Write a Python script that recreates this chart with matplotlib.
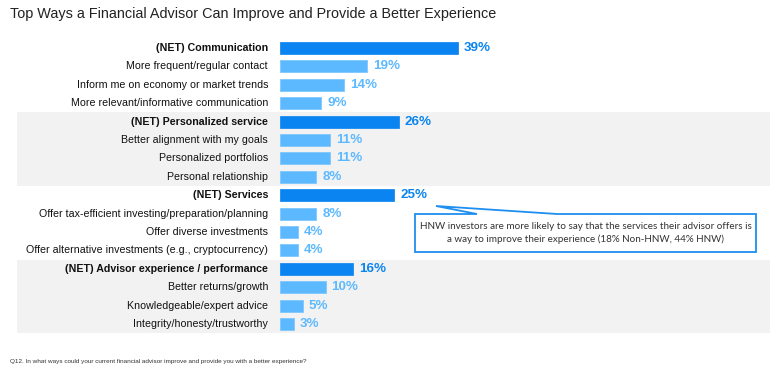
import matplotlib
matplotlib.use("Agg")
import matplotlib.pyplot as plt
from matplotlib.patches import Polygon

categories = [
    "(NET) Communication",
    "More frequent/regular contact",
    "Inform me on economy or market trends",
    "More relevant/informative communication",
    "(NET) Personalized service",
    "Better alignment with my goals",
    "Personalized portfolios",
    "Personal relationship",
    "(NET) Services",
    "Offer tax-efficient investing/preparation/planning",
    "Offer diverse investments",
    "Offer alternative investments (e.g., cryptocurrency)",
    "(NET) Advisor experience / performance",
    "Better returns/growth",
    "Knowledgeable/expert advice",
    "Integrity/honesty/trustworthy",
]
values = [39, 19, 14, 9, 26, 11, 11, 8, 25, 8, 4, 4, 16, 10, 5, 3]
is_net = [True, False, False, False, True, False, False, False,
          True, False, False, False, True, False, False, False]
shaded_groups = [(4, 7), (12, 15)]

title = "Top Ways a Financial Advisor Can Improve and Provide a Better Experience"
footnote = "Q12. In what ways could your current financial advisor improve and provide you with a better experience?"
callout = ("HNW investors are more likely to say that the services their advisor offers is\n"
           "a way to improve their experience (18% Non-HNW, 44% HNW)")

W, H = 780, 369
fig = plt.figure(figsize=(W / 100, H / 100), dpi=100)
plt.rcParams['font.family'] = ['Liberation Sans', 'DejaVu Sans']

ax = fig.add_axes([0, 0, 1, 1])
px_per = 4.56
x0 = 280
ax.set_xlim(-x0 / px_per, (W - x0) / px_per)
row0, rstep = 48, 18.4
ax.set_ylim((H - row0) / rstep, -row0 / rstep)
ax.axis("off")

DARK = "#0A84F0"
LIGHT = "#5DB9FF"

for a, b in shaded_groups:
    ax.axhspan(a - 0.5, b + 0.5, xmin=17 / W, xmax=770 / W, color="#F2F2F2", zorder=0, lw=0)

ys = list(range(len(categories)))
colors = [DARK if n else LIGHT for n in is_net]
ax.barh(ys, values, height=0.65, color=colors, zorder=2,
        edgecolor=["#1E8CF2" if n else "#7DC7FF" for n in is_net], linewidth=0.6)

for y, cat, v, n in zip(ys, categories, values, is_net):
    ax.text(-12 / px_per, y, cat, ha="right", va="center", fontsize=7.7,
            fontweight="bold" if n else "normal", color="#111111")
    ax.text(v + 6 / px_per, y, f"{v}%", ha="left", va="center", fontsize=9.6,
            fontweight="bold", color=DARK if n else LIGHT)

def fp(x, y):
    return (x / W, 1 - y / H)

fig.text(*fp(10, 14), title, fontsize=10.4, ha="left", va="center", color="#222222")
fig.text(*fp(10, 361), footnote, fontsize=4.6, ha="left", va="center", color="#333333")

pts = [fp(415, 214), fp(477, 214), fp(436, 206), fp(557, 214), fp(756, 214),
       fp(756, 252), fp(415, 252)]
poly = Polygon(pts, closed=True, transform=fig.transFigure, facecolor="white",
               edgecolor="#1E8FF0", linewidth=1.3, zorder=5)
fig.add_artist(poly)
fig.text(*fp(585.5, 233), callout, fontsize=7.15, ha="center", va="center",
         color="#333333", family=["Lato", "DejaVu Sans"], linespacing=1.45, zorder=6)

fig.savefig("out.png", dpi=100)
